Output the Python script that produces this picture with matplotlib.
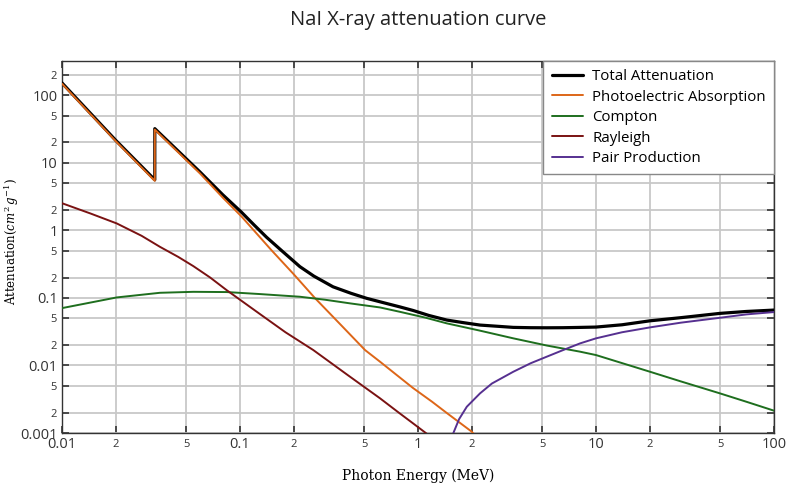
import matplotlib
matplotlib.use("Agg")
import matplotlib.pyplot as plt
from matplotlib.ticker import FixedLocator

# energies (MeV) and mass attenuation (cm^2/g)
total_e = [0.01, 0.02, 0.0332, 0.03321, 0.0596, 0.08, 0.102, 0.12, 0.141, 0.17, 0.217, 0.26,
           0.333, 0.42, 0.515, 0.65, 0.792, 0.941, 1.15, 1.45, 1.8, 2.23, 2.8, 3.43, 4.3,
           5.28, 6.5, 7.79, 10, 14, 20.1, 30, 49.7, 70, 100]
total_v = [152, 21.6, 5.6, 32, 7.3, 3.36, 1.85, 1.2, 0.79, 0.51, 0.29, 0.21,
           0.146, 0.117, 0.0985, 0.084, 0.0735, 0.065, 0.055, 0.047, 0.043, 0.0396, 0.038, 0.0366, 0.0362,
           0.0361, 0.0362, 0.0365, 0.0370, 0.040, 0.0458, 0.051, 0.059, 0.063, 0.066]

photo_e = [0.01, 0.02, 0.0332, 0.03321, 0.0596, 0.08, 0.102, 0.15, 0.2, 0.264, 0.37, 0.504,
           0.612, 0.75, 0.937, 1.2, 1.45, 2.0, 2.2]
photo_v = [148, 21.0, 5.4, 31, 6.95, 3.05, 1.6, 0.51, 0.225, 0.099, 0.0394, 0.0169,
           0.01135, 0.0074, 0.00464, 0.0029, 0.00198, 0.00105, 0.0008]

compton_e = [0.01, 0.0203, 0.0355, 0.0547, 0.0842, 0.129, 0.217, 0.3, 0.415, 0.612, 0.792,
             1.1, 1.45, 2.2, 3.43, 5.3, 8.13, 10, 20.1, 30, 49.7, 70, 100]
compton_v = [0.0706, 0.1016, 0.119, 0.123, 0.122, 0.114, 0.104, 0.094, 0.083, 0.0722, 0.0622,
             0.051, 0.042, 0.033, 0.0252, 0.0197, 0.0160, 0.01425, 0.00807, 0.0058, 0.00386, 0.0029, 0.00214]

rayleigh_e = [0.01, 0.0145, 0.0203, 0.028, 0.0355, 0.045, 0.0547, 0.068, 0.0842, 0.129, 0.18,
              0.258, 0.4, 0.612, 0.78, 0.941, 1.09, 1.2]
rayleigh_v = [2.52, 1.77, 1.265, 0.83, 0.57, 0.404, 0.295, 0.2, 0.130, 0.058, 0.031,
              0.0169, 0.0073, 0.00326, 0.0020, 0.00138, 0.00103, 0.00085]

pair_e = [1.5, 1.58, 1.7, 1.88, 2.23, 2.6, 3.43, 4.3, 5.28, 6.5, 8.13, 10, 14, 20.1, 30, 49.7, 70, 100]
pair_v = [0.0006, 0.001, 0.0016, 0.00245, 0.00386, 0.0054, 0.00807, 0.0108, 0.01346, 0.0168,
          0.0212, 0.0252, 0.031, 0.0366, 0.043, 0.0508, 0.057, 0.0617]

x_major = [0.01, 0.1, 1, 10, 100]
x_major_labels = ["0.01", "0.1", "1", "10", "100"]
x_minor = [0.02, 0.05, 0.2, 0.5, 2, 5, 20, 50]
x_minor_labels = ["2", "5"] * 4
y_major = [0.001, 0.01, 0.1, 1, 10, 100]
y_major_labels = ["0.001", "0.01", "0.1", "1", "10", "100"]
y_minor = [0.002, 0.005, 0.02, 0.05, 0.2, 0.5, 2, 5, 20, 50, 200]
y_minor_labels = ["2", "5"] * 5 + ["2"]

plt.rcParams["font.family"] = ["Open Sans", "DejaVu Sans"]
plt.rcParams["mathtext.fontset"] = "dejavuserif"

fig = plt.figure(figsize=(7.87, 4.83), dpi=100)
ax = fig.add_axes([0.0788, 0.1035, 0.9047, 0.770])

style = dict(solid_joinstyle="round", solid_capstyle="round")
ax.plot(total_e, total_v, color="black", lw=2.3, label="Total Attenuation", zorder=3, **style)
ax.plot(photo_e, photo_v, color="#dd6618", lw=1.4, label="Photoelectric Absorption", zorder=4, **style)
ax.plot(compton_e, compton_v, color="#1e6e1e", lw=1.4, label="Compton", zorder=4, **style)
ax.plot(rayleigh_e, rayleigh_v, color="#7a1212", lw=1.4, label="Rayleigh", zorder=4, **style)
ax.plot(pair_e, pair_v, color="#563090", lw=1.4, label="Pair Production", zorder=4, **style)

ax.set_xscale("log")
ax.set_yscale("log")
ax.set_xlim(0.01, 100)
ax.set_ylim(0.001, 320)

ax.xaxis.set_major_locator(FixedLocator(x_major))
ax.xaxis.set_minor_locator(FixedLocator(x_minor))
ax.set_xticklabels(x_major_labels)
ax.set_xticklabels(x_minor_labels, minor=True)
ax.yaxis.set_major_locator(FixedLocator(y_major))
ax.yaxis.set_minor_locator(FixedLocator(y_minor))
ax.set_yticklabels(y_major_labels)
ax.set_yticklabels(y_minor_labels, minor=True)

ax.tick_params(which="both", direction="in", top=True, right=True, colors="#333333",
               width=1.2, length=5)
ax.tick_params(which="major", labelsize=10.5, pad=3)
ax.tick_params(which="minor", labelsize=8, pad=4)

ax.grid(True, which="both", color="#c8c8c8", lw=1.3)
ax.set_axisbelow(True)
for s in ax.spines.values():
    s.set_color("#333333")
    s.set_linewidth(1.0)

ax.set_title("NaI X-ray attenuation curve", fontsize=14.5, color="#222222", pad=26)
ax.set_xlabel("Photon Energy (MeV)", family="DejaVu Serif", fontsize=10)
ax.xaxis.set_label_coords(0.5, -0.097)
ax.set_ylabel("Attenuation$(cm^2\\,g^{-1})$", family="DejaVu Serif", fontsize=8.5)
ax.yaxis.set_label_coords(-0.057, 0.516)

leg = ax.legend(loc="upper right", bbox_to_anchor=(1.0, 1.0), borderaxespad=0, fontsize=10.8,
                labelspacing=0.36, handlelength=2.1, handletextpad=0.6, borderpad=0.55,
                fancybox=False, framealpha=1, edgecolor="#888888")
leg.get_frame().set_linewidth(1.0)

fig.savefig("out.png", dpi=100)
